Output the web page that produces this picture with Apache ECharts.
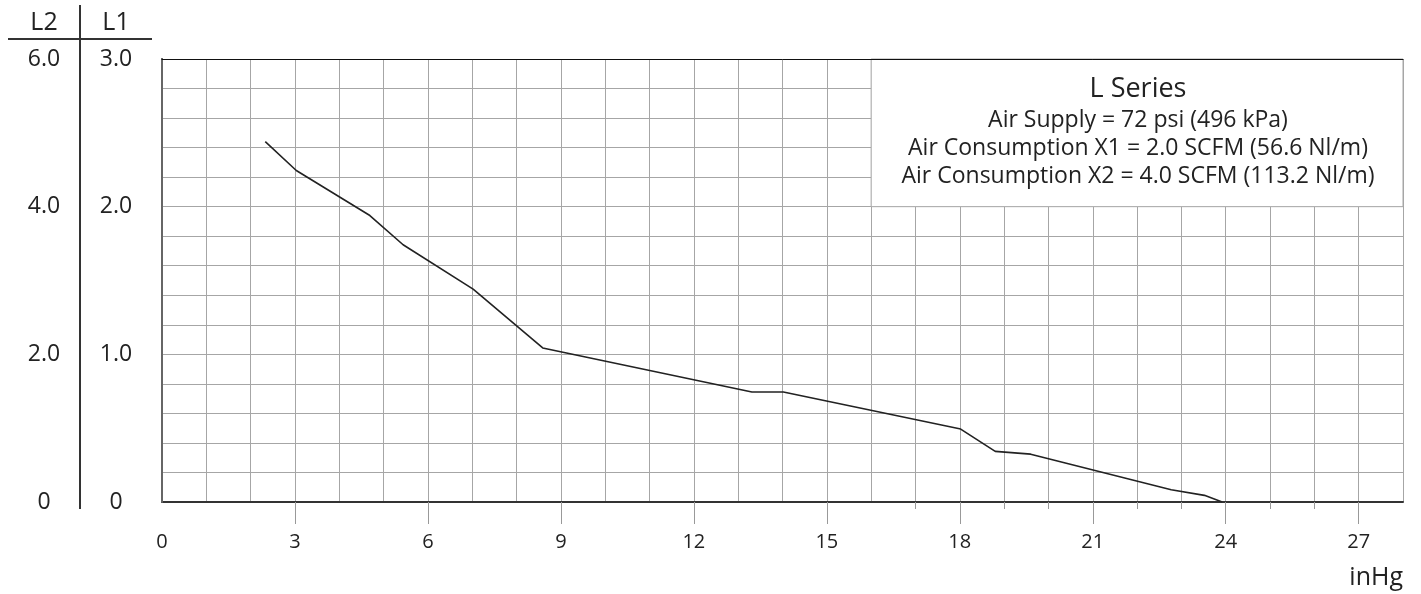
<!DOCTYPE html>
<html><head><meta charset="utf-8">
<script src="https://cdn.jsdelivr.net/npm/echarts@6/dist/echarts.min.js"></script>
<style>html,body{margin:0;padding:0;background:#fff}#c{width:1421px;height:594px}</style>
</head><body><div id="c"></div>
<script>
// vacuum (inHg) and flow on the L1 scale
const vacuumInHg = [2.33, 3.03, 4.69, 5.44, 7.02, 8.59, 13.31, 14.02, 18.02, 18.80, 19.60, 22.77, 23.52, 23.92];
const flowL1     = [2.44, 2.245, 1.94, 1.742, 1.442, 1.043, 0.745, 0.745, 0.494, 0.343, 0.324, 0.083, 0.045, 0];
const xTickLabels = [0, 3, 6, 9, 12, 15, 18, 21, 24, 27];
const xMajorTicks = [3, 6, 9, 12, 15, 18, 21, 24, 27];
const xMinorTicks = [17, 19, 20, 22, 23, 25, 26];
const l1TickLabels = [0, 1, 2, 3];
const l2TickLabels = [0, 2, 4, 6];
const legendLines = ['L Series', 'Air Supply = 72 psi (496 kPa)', 'Air Consumption X1 = 2.0 SCFM (56.6 Nl/m)', 'Air Consumption X2 = 4.0 SCFM (113.2 Nl/m)'];
const legendBox = [[16, 2.0], [28, 3.0]];

const FONT = 'Open Sans';
const GRID = '#a6a6a6';
const INK = '#222';
const fmt = v => v === 0 ? '0' : v.toFixed(1);

const chart = echarts.init(document.getElementById('c'), null, {renderer: 'canvas'});
chart.setOption({
  animation: false,
  backgroundColor: '#fff',
  textStyle: {fontFamily: FONT},
  grid: {left: 162, right: 18, top: 59, bottom: 92},
  xAxis: [
    {type: 'value', min: 0, max: 28, interval: 1, position: 'bottom',
     axisLine: {show: false}, axisTick: {show: false}, axisLabel: {show: false},
     splitLine: {show: true, lineStyle: {color: GRID, width: 1}}},
    {type: 'value', min: 0, max: 28, position: 'bottom',
     axisLine: {show: true, lineStyle: {color: '#333', width: 2}},
     axisTick: {show: true, customValues: xMajorTicks, length: 22, lineStyle: {color: '#999', width: 1}},
     axisLabel: {customValues: xTickLabels, margin: 30, fontSize: 20, color: INK, fontFamily: FONT},
     splitLine: {show: false}},
    {type: 'value', min: 0, max: 28, position: 'bottom',
     axisLine: {show: false},
     axisTick: {show: true, customValues: xMinorTicks, length: 7, lineStyle: {color: '#999', width: 1}},
     axisLabel: {show: false}, splitLine: {show: false}},
    {type: 'value', min: 0, max: 28, position: 'top', z: 10,
     axisLine: {show: true, lineStyle: {color: '#111', width: 1}},
     axisTick: {show: false}, axisLabel: {show: false}, splitLine: {show: false}}
  ],
  yAxis: [
    {type: 'value', min: 0, max: 3, interval: 0.2, position: 'left',
     axisLine: {show: true, lineStyle: {color: '#333', width: 2}},
     axisTick: {show: false},
     axisLabel: {customValues: l1TickLabels, formatter: fmt, align: 'center', margin: 46, fontSize: 23, color: INK, fontFamily: FONT},
     splitLine: {show: true, lineStyle: {color: GRID, width: 1}}},
    {type: 'value', min: 0, max: 6, position: 'left',
     axisLine: {show: false}, axisTick: {show: false},
     axisLabel: {customValues: l2TickLabels, formatter: fmt, align: 'center', margin: 118, fontSize: 23, color: INK, fontFamily: FONT},
     splitLine: {show: false}},
    {type: 'value', min: 0, max: 3, position: 'right', z: 10,
     axisLine: {show: true, lineStyle: {color: '#666', width: 2}},
     axisTick: {show: false}, axisLabel: {show: false}, splitLine: {show: false}}
  ],
  series: [{
    type: 'line', xAxisIndex: 0, yAxisIndex: 0,
    data: vacuumInHg.map((x, i) => [x, flowL1[i]]),
    symbol: 'none', lineStyle: {color: '#222', width: 1.6},
    markArea: {silent: true,
      itemStyle: {color: '#fff', borderColor: GRID, borderWidth: 1},
      label: {show: false},
      data: [[{coord: legendBox[0]}, {coord: legendBox[1]}]]}
  }],
  graphic: [
    {type: 'text', x: 1138, y: 89, z: 100, style: {text: legendLines[0], font: '27px "' + FONT + '"', fill: INK, textAlign: 'center', textVerticalAlign: 'middle'}},
    {type: 'text', x: 1138, y: 120, z: 100, style: {text: legendLines[1], font: '23px "' + FONT + '"', fill: INK, textAlign: 'center', textVerticalAlign: 'middle'}},
    {type: 'text', x: 1138, y: 148, z: 100, style: {text: legendLines[2], font: '23px "' + FONT + '"', fill: INK, textAlign: 'center', textVerticalAlign: 'middle'}},
    {type: 'text', x: 1138, y: 176, z: 100, style: {text: legendLines[3], font: '23px "' + FONT + '"', fill: INK, textAlign: 'center', textVerticalAlign: 'middle'}},
    {type: 'text', x: 1403, y: 578, z: 100, style: {text: 'inHg', font: '25px "' + FONT + '"', fill: INK, textAlign: 'right', textVerticalAlign: 'middle'}},
    {type: 'text', x: 44, y: 23, z: 100, style: {text: 'L2', font: '25px "' + FONT + '"', fill: INK, textAlign: 'center', textVerticalAlign: 'middle'}},
    {type: 'text', x: 116, y: 23, z: 100, style: {text: 'L1', font: '25px "' + FONT + '"', fill: INK, textAlign: 'center', textVerticalAlign: 'middle'}},
    {type: 'line', z: 100, shape: {x1: 8, y1: 39, x2: 152, y2: 39}, style: {stroke: '#333', lineWidth: 2}},
    {type: 'line', z: 100, shape: {x1: 80, y1: 5, x2: 80, y2: 509}, style: {stroke: '#333', lineWidth: 2}}
  ]
});
</script></body></html>
